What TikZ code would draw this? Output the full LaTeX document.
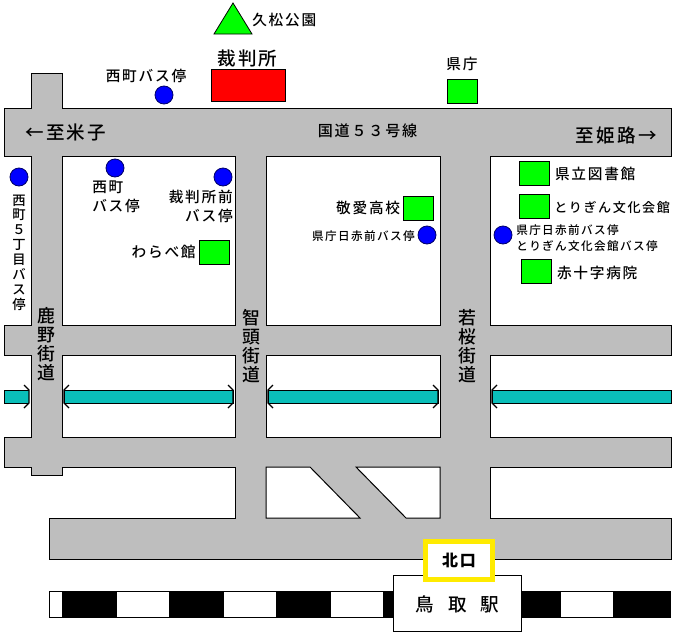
\documentclass[tikz,border=0pt]{standalone}
\usepackage{fontspec}
\setmainfont{Noto Sans CJK JP Medium}[LetterSpace=12]
\usetikzlibrary{positioning}
\definecolor{roadgray}{RGB}{190,190,190}
\definecolor{canalteal}{RGB}{10,190,185}
\tikzset{
    roadline/.style={draw=black, fill=roadgray, line width=0.75pt},
    blockline/.style={draw=black, fill=white, line width=0.75pt},
    canalbar/.style={draw=black, fill=canalteal, line width=0.75pt},
    bridgemark/.style={draw=black, line width=1pt},
    greennode/.style={rectangle, draw=black, fill=green, line width=0.6pt, inner sep=0pt, minimum width=22.5pt, minimum height=18pt},
    rednode/.style={rectangle, draw=black, fill=red, line width=0.6pt, inner sep=0pt, minimum width=55.5pt, minimum height=24pt},
    bluedot/.style={circle, draw=black!60!blue, fill=blue, line width=0.6pt, inner sep=0pt, minimum size=13.5pt},
    mylabel/.style={inner sep=0pt, font=\fontsize{11}{14.25}\selectfont},
    biglabel/.style={inner sep=0pt, font=\fontsize{13.9}{16}\selectfont},
    smalllabel/.style={inner sep=0pt, align=left, font=\fontsize{8.7}{12}\selectfont},
    streetlabel/.style={inner sep=0pt, align=center, font=\fontsize{13.4}{14.4}\selectfont}
}
\begin{document}
\begin{tikzpicture}[x=0.75pt, y=-0.75pt, node distance=3pt]

        \useasboundingbox (0,0) rectangle (677,639);

        % ------------------
        % roads
        % ------------------

        \draw[roadline] (31,73) -- (62,73) -- (62,108) -- (671,108) -- (671,156) -- (490,156) -- (490,325) -- (671,325) -- (671,355) -- (490,355) -- (490,437) -- (671,437) -- (671,467) -- (490,467) -- (490,518) -- (671,518) -- (671,559) -- (49,559) -- (49,518) -- (235,518) -- (235,467) -- (62,467) -- (62,475) -- (31,475) -- (31,467) -- (4,467) -- (4,437) -- (31,437) -- (31,355) -- (4,355) -- (4,325) -- (31,325) -- (31,156) -- (4,156) -- (4,108) -- (31,108) -- cycle;

        \draw[blockline] (62,156) rectangle (235,325);
        \draw[blockline] (266,156) rectangle (440,325);
        \draw[blockline] (62,355) rectangle (235,437);
        \draw[blockline] (266,355) rectangle (440,437);
        \draw[blockline] (266,467) -- (310,467) -- (360,518) -- (266,518) -- cycle;
        \draw[blockline] (356,467) -- (440,467) -- (440,518) -- (406,518) -- cycle;

        % ------------------
        % canal and bridges
        % ------------------

        \draw[canalbar] (29,390) -- (4,390) -- (4,403) -- (29,403);
        \draw[canalbar] (64,390) rectangle (233,403);
        \draw[canalbar] (268,390) rectangle (438,403);
        \draw[canalbar] (492,403) -- (492,390) -- (671,390) -- (671,403) -- cycle;

        \draw[bridgemark] (24,385) -- (29,390) -- (29,403) -- (24,408);
        \draw[bridgemark] (69,385) -- (64,390) -- (64,403) -- (69,408);
        \draw[bridgemark] (228,385) -- (233,390) -- (233,403) -- (228,408);
        \draw[bridgemark] (273,385) -- (268,390) -- (268,403) -- (273,408);
        \draw[bridgemark] (433,385) -- (438,390) -- (438,403) -- (433,408);
        \draw[bridgemark] (497,385) -- (492,390) -- (492,403) -- (497,408);

        % ------------------
        % railway
        % ------------------

        \draw[fill=white, line width=0.75pt] (49,591) rectangle (670,617);
        \fill[black] (62,591) rectangle (117,617);
        \fill[black] (169,591) rectangle (224,617);
        \fill[black] (276,591) rectangle (331,617);
        \fill[black] (383,591) rectangle (400,617);
        \fill[black] (510,591) rectangle (561,617);
        \fill[black] (613,591) rectangle (670,617);

        % ------------------
        % nodes
        % ------------------

        \draw[draw=black, fill=green, line width=0.6pt] (233,3) -- (252,34) -- (214,34) -- cycle;
        \node[mylabel, anchor=west] (park) at (252,20) {久松公園};

        \node[rednode] (court) at (248,85) {};
        \node[biglabel] (courtlabel) at (247.5,58) {裁判所};

        \node[greennode] (pref) at (462,91) {};
        \node[mylabel, above=6pt of pref] (preflabel) {県庁};

        \node[greennode] (library) at (534,173.5) {};
        \node[mylabel, right=4pt of library] (librarylabel) {県立図書館};
        \node[greennode] (bunka) at (534,206) {};
        \node[smalllabel, font=\fontsize{9.8}{12}\selectfont, right=3.5pt of bunka, yshift=-1pt] (bunkalabel) {とりぎん文化会館};
        \node[greennode] (hospital) at (536,271) {};
        \node[mylabel, right=4pt of hospital, yshift=-1.5pt] (hospitallabel) {赤十字病院};
        \node[greennode] (keiai) at (418.5,208) {};
        \node[mylabel, left=2pt of keiai] (keiailabel) {敬愛高校};
        \node[greennode] (warabe) at (214,252) {};
        \node[mylabel, left=2pt of warabe] (warabelabel) {わらべ館};

        \node[bluedot] (stopnishi) at (164,95) {};
        \node[mylabel] (stopnishilabel) at (146,76) {西町バス停};
        \node[bluedot] (stopmachi) at (115,168) {};
        \node[mylabel, align=left, anchor=north west] (stopmachilabel) at (92,181) {西町\\バス停};
        \node[bluedot] (stopcourt) at (223,177) {};
        \node[mylabel, align=right, anchor=north east] (stopcourtlabel) at (233,190) {裁判所前\\バス停};
        \node[bluedot] (stopfive) at (19,177) {};
        \node[streetlabel, font=\fontsize{10}{11.14}\selectfont, below=6pt of stopfive] (stopfivelabel) {西\\町\\５\\丁\\目\\バ\\ス\\停};
        \node[bluedot] (stopredcross) at (427,235) {};
        \node[smalllabel, left=2pt of stopredcross, yshift=-0.7pt] (stopredcrosslabel) {県庁日赤前バス停};
        \node[bluedot] (stopbunka) at (503,235) {};
        \node[smalllabel, anchor=west] (stopbunkalabel) at (516,238) {県庁日赤前バス停\\とりぎん文化会館バス停};

        \node[biglabel, anchor=west] (toyonago) at (25,132) {←至米子};
        \node[mylabel, font=\fontsize{11.3}{14}\selectfont] (route) at (367.5,131) {国道５３号線};
        \node[biglabel, anchor=east] (tohimeji) at (657,135) {至姫路→};

        \node[streetlabel] (shikano) at (46,344) {鹿\\野\\街\\道};
        \node[streetlabel] (chizu) at (251,346) {智\\頭\\街\\道};
        \node[streetlabel] (wakasa) at (467,346) {若\\桜\\街\\道};

        \node[rectangle, draw=black, fill=white, line width=0.75pt, minimum width=96pt, minimum height=42pt, inner sep=0pt] (station) at (457,603) {};
        \node[biglabel] (stationlabel) at (457.5,604) {鳥\hspace{0.75em}取\hspace{0.75em}駅};
        \node[rectangle, draw={rgb,255:red,255;green,235;blue,0}, fill=white, line width=3.75pt, minimum width=50.25pt, minimum height=28.5pt, inner sep=0pt, font=\fontsize{12}{14}\bfseries\selectfont] (north) at (459,560.5) {北口};

\end{tikzpicture}
\end{document}
